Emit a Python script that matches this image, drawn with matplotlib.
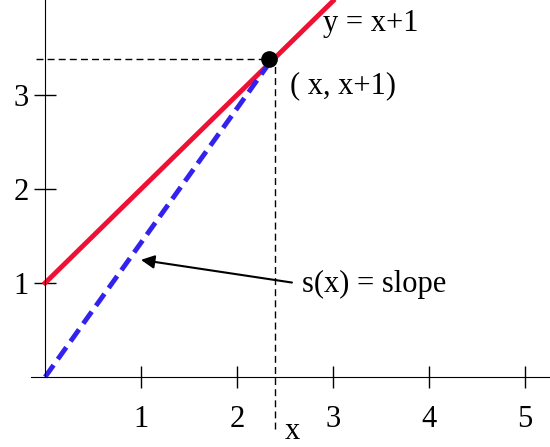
import matplotlib.pyplot as plt
import numpy as np

x_ticks = [1, 2, 3, 4, 5]
y_ticks = [1, 2, 3]
line_x = [0, 3.0]
px = 2.33  # the chosen x
arrow_tail = (2.6, 1.0)
arrow_head = (0.97, 1.25)

plt.rcParams['font.family'] = ['Liberation Serif', 'DejaVu Serif']

fig = plt.figure(figsize=(5.5, 4.47), dpi=100)
ax = fig.add_axes([0, 0, 1, 1])
ax.set_xlim(-0.47, 5.26)
ax.set_ylim(-0.745, 4.01)

for s in ['top', 'right']:
    ax.spines[s].set_visible(False)
ax.spines['left'].set_position(('data', 0))
ax.spines['bottom'].set_position(('data', 0))
ax.spines['left'].set_bounds(0, 4.01)
ax.spines['bottom'].set_bounds(-0.15, 5.26)
ax.set_xticks(x_ticks)
ax.set_yticks(y_ticks)
ax.tick_params(axis='x', direction='inout', length=16, width=1, labelsize=22, pad=12)
ax.tick_params(axis='y', direction='inout', length=16, width=1, labelsize=22, pad=4)

lx = np.array(line_x)
ax.plot(lx, lx + 1, color='#ee1133', lw=3.5)
ax.plot([0, px], [0, px + 1], color='#3322ee', lw=3.5, ls=(0, (3, 1.5)))
ax.plot([px + 0.06, px + 0.06], [-0.55, px + 1], 'k--', lw=1, dashes=(5, 3))
ax.plot([-0.1, px], [px + 1.05, px + 1.05], 'k--', lw=1, dashes=(5, 3))
ax.plot(px, px + 1.05, 'o', color='k', ms=11, zorder=5)

ax.annotate('', xy=arrow_head, xytext=arrow_tail,
            arrowprops=dict(arrowstyle='-|>', color='k', lw=1.5, mutation_scale=20))
ax.text(2.9, 3.76, 'y = x+1', fontsize=22, va='center')
ax.text(2.55, 3.1, '( x, x+1)', fontsize=22, va='center')
ax.text(2.68, 0.98, 's(x) = slope', fontsize=22, va='center')
ax.text(2.5, -0.58, 'x', fontsize=22, va='center')

fig.savefig('out.png', dpi=100)
